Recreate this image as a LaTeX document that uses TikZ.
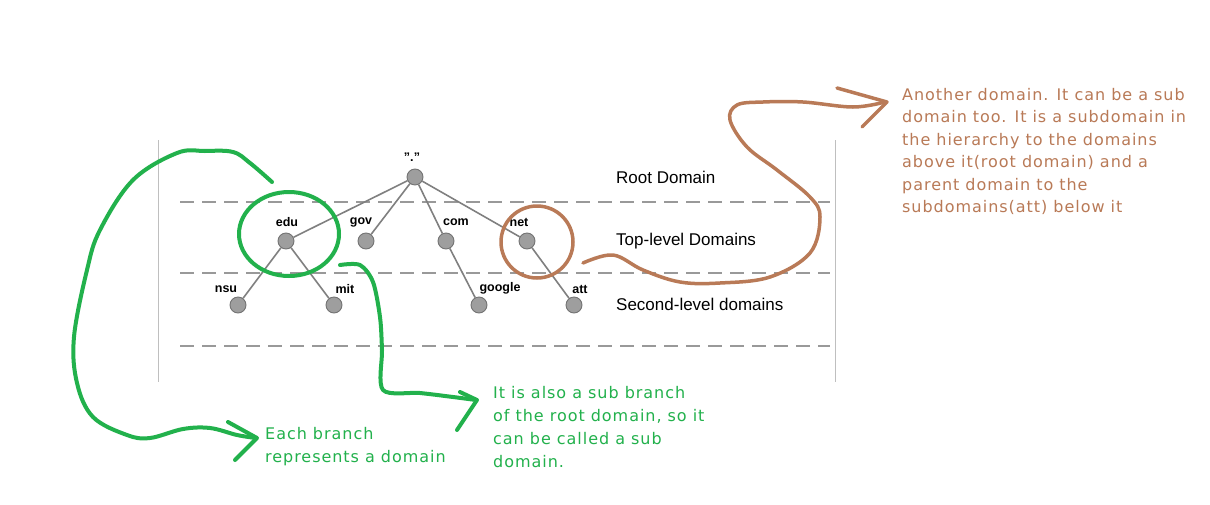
\documentclass[tikz,border=0pt]{standalone}
\usepackage{fontspec}
\setmainfont{Liberation Sans}
\newfontfamily\handfont[LetterSpace=6]{DejaVu Sans}
\definecolor{mygreen}{HTML}{22B14C}
\definecolor{mybrown}{HTML}{B97A57}
\begin{document}
\begin{tikzpicture}[x=1pt,y=-1pt,
  dom/.style={circle,draw=black!55,fill=black!38,minimum size=16pt,inner sep=0pt,line width=0.9pt},
  lbl/.style={font=\bfseries\fontsize{12.5}{14}\selectfont,inner sep=0pt},
  edge/.style={draw=black!50,line width=1.6pt},
  sepline/.style={draw=black!40,line width=1.6pt,dash pattern=on 14pt off 8pt},
  frame/.style={draw=black!25,line width=0.8pt},
  levellbl/.style={anchor=west,inner sep=0pt,font=\fontsize{17}{20}\selectfont},
  gmark/.style={draw=mygreen,line width=4pt,line cap=round,line join=round},
  bmark/.style={draw=mybrown,line width=3.5pt,line cap=round,line join=round},
  gnote/.style={anchor=north west,align=left,inner sep=0pt,text=mygreen,font=\handfont\fontsize{16}{23}\selectfont},
  bnote/.style={anchor=north west,align=left,inner sep=0pt,text=mybrown,font=\handfont\fontsize{16}{22.5}\selectfont}
]
\useasboundingbox (0,0) rectangle (1210,504);
\fill[white] (0,0) rectangle (1210,504);

% frame and separators
\draw[frame] (158,140) -- (158,382);
\draw[frame] (835,140) -- (835,382);
\draw[sepline] (180,202) -- (830,202);
\draw[sepline] (180,273) -- (830,273);
\draw[sepline] (180,346) -- (830,346);

% nodes
\node[dom] (root) at (415,177) {};
\node[dom] (edu) at (286,241) {};
\node[dom] (gov) at (366,241) {};
\node[dom] (com) at (446,241) {};
\node[dom] (net) at (527,241) {};
\node[dom] (nsu) at (238,305) {};
\node[dom] (mit) at (334,305) {};
\node[dom] (google) at (479,305) {};
\node[dom] (att) at (574,305) {};

\node[lbl] (lroot) at (412,157) {".\kern0.5pt"};
\node[lbl] (ledu) at (287,222) {edu};
\node[lbl] (lgov) at (361,222) {gov};
\node[lbl] (lcom) at (456,222) {com};
\node[lbl] (lnet) at (519,222) {net};
\node[lbl] (lnsu) at (226,289) {nsu};
\node[lbl] (lmit) at (345,289) {mit};
\node[lbl] (lgoogle) at (500,288) {google};
\node[lbl] (latt) at (580,289) {att};

\draw[edge] (root) -- (edu);
\draw[edge] (root) -- (gov);
\draw[edge] (root) -- (com);
\draw[edge] (root) -- (net);
\draw[edge] (edu) -- (nsu);
\draw[edge] (edu) -- (mit);
\draw[edge] (com) -- (google);
\draw[edge] (net) -- (att);

\node[levellbl] (rootdom) at (616,177) {Root Domain};
\node[levellbl] (tld) at (616,241) {Top-level Domains};
\node[levellbl] (sld) at (616,304) {Second-level domains};

% highlight ellipses
\draw[gmark] (289,234) ellipse [x radius=50, y radius=42];
\draw[bmark] (537,242) ellipse [x radius=36, y radius=36];

% green arrow 1
\draw[gmark] plot[smooth,tension=0.6] coordinates {(272,182) (250,163) (233,152) (205,151) (177,153) (133,180) (100,230) (87,270) (74,337) (77,383) (93,417) (127,435) (150,438) (183,429) (210,428) (237,435) (256,438)};
\coordinate (g1tip) at (257,438);
\draw[gmark] (228,422) -- (g1tip) -- (235,460);

% green arrow 2
\draw[gmark] plot[smooth,tension=0.5] coordinates {(340,265) (360,265) (373,282) (380,317) (382,350) (383,390) (420,393) (453,397) (476,400)};
\coordinate (g2tip) at (477,400);
\draw[gmark] (460,392) -- (g2tip) -- (457,430);

% brown arrow
\draw[bmark] plot[smooth,tension=0.6] coordinates {(583,263) (613,255) (643,270) (680,282) (720,283) (770,277) (810,253) (820,217) (810,197) (777,170) (747,147) (730,120) (737,105) (763,102) (803,102) (853,107) (885,102)};
\coordinate (btip) at (887,102);
\draw[bmark] (837,88) -- (btip) -- (862,127);

% notes
\node[bnote] (bnotes) at (902,88) {Another domain. It can be a sub\\domain too. It is a subdomain in\\the hierarchy to the domains\\above it(root domain) and a\\parent domain to the\\subdomains(att) below it};
\node[gnote] (g1note) at (265,427) {Each branch\\represents a domain};
\node[gnote] (g2note) at (493,386) {It is also a sub branch\\of the root domain, so it\\can be called a sub\\domain.};
\end{tikzpicture}
\end{document}
